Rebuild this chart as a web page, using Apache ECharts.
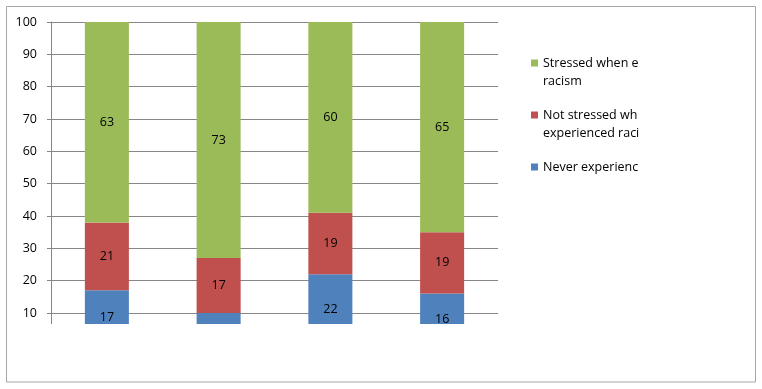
<!DOCTYPE html>
<html>
<head>
<meta charset="utf-8">
<script src="https://cdn.jsdelivr.net/npm/echarts@6/dist/echarts.min.js"></script>
<style>
  html, body { margin: 0; padding: 0; background: #fff; }
  #chart { width: 762px; height: 389px; }
</style>
</head>
<body>
<div id="chart"></div>
<script>
// categories are not visible in the picture (clipped below the plot)
const categories = ['Group 1', 'Group 2', 'Group 3', 'Group 4'];

const seriesNames = [
  'Never experienced racism',
  'Not stressed when experienced racism',
  'Stressed when experienced racism'
];
// how the legend wraps each name
const legendLines = {
  'Never experienced racism': ['Never experienced racism'],
  'Not stressed when experienced racism': ['Not stressed when', 'experienced racism'],
  'Stressed when experienced racism': ['Stressed when experienced', 'racism']
};

const neverExperienced = [17, 10, 22, 16];
const notStressed = [21, 17, 19, 19];
const stressed = [63, 73, 60, 65];

const colors = ['#4F81BD', '#C0504D', '#9BBB59'];
const FONT = '"Open Sans"';
const FS = 12.5;

const chart = echarts.init(document.getElementById('chart'), null, { renderer: 'canvas' });

const label = {
  show: true,
  position: 'inside',
  color: '#000',
  fontFamily: FONT,
  fontSize: FS
};

chart.setOption({
  animation: false,
  textStyle: { fontFamily: FONT },
  grid: { left: 51, right: 264, top: 22, bottom: 43.7 },
  legend: {
    orient: 'vertical',
    left: 526,
    top: 31,
    itemWidth: 7,
    itemHeight: 7,
    itemGap: -2,
    icon: 'rect',
    data: [seriesNames[2], seriesNames[1], seriesNames[0]],
    formatter: (name) => {
      const lines = legendLines[name];
      // empty first/last line keeps the marker level with the first line
      return ['', lines[0], lines[1] || ''].join('\n');
    },
    textStyle: {
      fontFamily: FONT,
      fontSize: FS,
      color: '#000',
      lineHeight: 18,
      width: 102,
      overflow: 'truncate',
      ellipsis: ''
    }
  },
  xAxis: {
    type: 'category',
    data: categories,
    axisLine: { show: false },
    axisTick: { show: false },
    axisLabel: { show: false }
  },
  yAxis: {
    type: 'value',
    min: 0,
    max: 100,
    interval: 10,
    axisLine: { show: true, lineStyle: { color: '#868686', width: 1 } },
    axisTick: { show: true, length: 4, lineStyle: { color: '#868686' } },
    axisLabel: { color: '#000', fontSize: FS, fontFamily: FONT, margin: 14 },
    splitLine: { lineStyle: { color: '#868686', width: 1 } }
  },
  series: [
    { name: seriesNames[0], type: 'bar', stack: 'total', data: neverExperienced,
      barWidth: '39.4%', itemStyle: { color: colors[0] }, label },
    { name: seriesNames[1], type: 'bar', stack: 'total', data: notStressed,
      barWidth: '39.4%', itemStyle: { color: colors[1] }, label },
    { name: seriesNames[2], type: 'bar', stack: 'total', data: stressed,
      barWidth: '39.4%', itemStyle: { color: colors[2] }, label }
  ],
  graphic: [
    {
      // the plot area is clipped below about 6.6
      type: 'rect',
      z: 100,
      shape: { x: 7, y: 324, width: 748, height: 57.5 },
      style: { fill: '#fff' }
    },
    {
      type: 'rect',
      z: 101,
      shape: { x: 6.5, y: 6.5, width: 749, height: 375.5 },
      style: { fill: 'none', stroke: '#a6a6a6', lineWidth: 1 }
    }
  ]
});
</script>
</body>
</html>
